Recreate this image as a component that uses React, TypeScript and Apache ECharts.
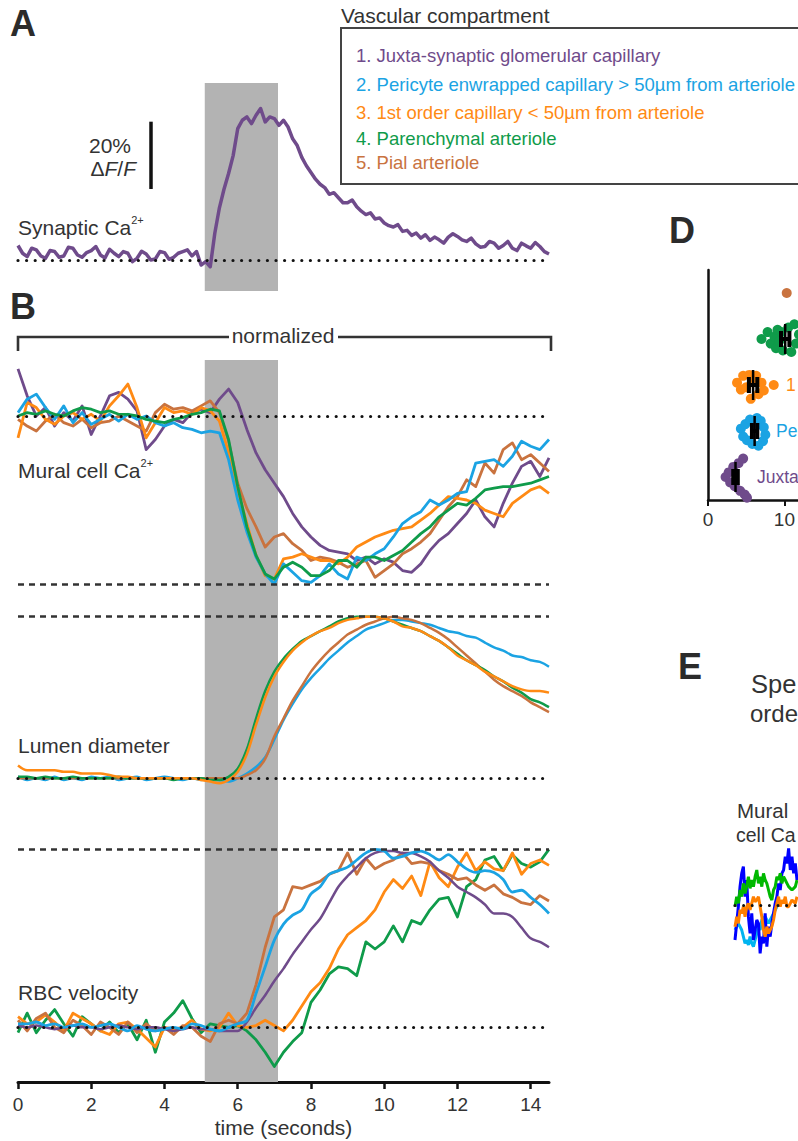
import { useEffect, useRef } from "react";
import * as echarts from "echarts";

const FONT = "'Liberation Sans', Arial, Helvetica, sans-serif";
const DT = 0.25; // sampling interval of the panel B traces (s)
const DT_A = 0.125; // sampling interval of the panel A trace (s)
const X_MAX = 14.5;
const STIM = [5.1, 7.1];

const C_JUXTA = "#6f4b8b";
const C_PERI = "#1ba3e3";
const C_FIRST = "#ff8a14";
const C_PAREN = "#0f9b4a";
const C_PIAL = "#c9733f";

const LEGEND_ITEMS = [
  "1. Juxta-synaptic glomerular capillary",
  "2. Pericyte enwrapped capillary > 50µm from arteriole",
  "3. 1st order capillary < 50µm from arteriole",
  "4. Parenchymal arteriole",
  "5. Pial arteriole",
];
const LEGEND_COLORS = [C_JUXTA, C_PERI, C_FIRST, C_PAREN, C_PIAL];

// Panel A: synaptic Ca2+ (% dF/F), one row per second
const synapticCa = [
  4.3, 2.0, 1.0, 3.5, 3.0, 1.2, 0.5, 2.8,
  2.5, 0.8, 1.2, 3.8, 3.5, 1.5, 0.8, 2.2,
  2.8, 4.0, 1.5, 0.6, 3.2, 2.0, 1.0, 2.5,
  2.0, -0.5, 0.5, 2.6, 1.8, 0.0, 0.3, 2.5,
  2.2, 0.2, 0.8, 2.0, 2.5, 3.0, 1.2, 2.5,
  -1.5, -0.5, -2.0, 8.0, 15.5, 21.0, 25.7, 31.0,
  39.0, 41.5, 42.5, 40.5, 43.0, 45.0, 41.0, 42.5,
  42.0, 40.0, 41.5, 39.5, 36.0, 34.0, 30.5, 28.0,
  26.0, 24.0, 22.5, 21.5, 19.5, 20.0, 18.5, 17.0,
  17.0, 17.8, 15.8, 14.5, 13.5, 14.0, 12.2, 12.5,
  11.0, 10.2, 9.8, 10.5, 8.5, 8.8, 7.3, 8.0,
  6.5, 7.5, 5.8, 6.8, 6.0, 5.0, 6.8, 7.8,
  7.0, 6.0, 5.5, 6.5, 4.8, 3.8, 4.0, 5.5,
  5.0, 3.5, 4.3, 5.5, 3.5, 2.8, 5.0, 4.2,
  3.5, 5.2, 4.0, 2.5, 1.8,
];

// Panel B: mural cell Ca2+ (normalized, 0 = baseline, -1 = minimum)
const muralJuxta = [
  0.28, 0.12, 0.0, 0.05, -0.06, 0.02, -0.03, 0.06, -0.11, 0.0,
  0.12, 0.14, 0.1, 0.03, -0.2, -0.14, -0.06, -0.02, -0.04, 0.02,
  0.04, 0.02, 0.1, 0.16, 0.08, -0.08, -0.22, -0.32, -0.4, -0.48,
  -0.58, -0.66, -0.72, -0.77, -0.8, -0.81, -0.82, -0.86, -0.84, -0.88,
  -0.85, -0.87, -0.92, -0.93, -0.88, -0.8, -0.74, -0.7, -0.64, -0.58,
  -0.5, -0.6, -0.66, -0.52, -0.4, -0.3, -0.27, -0.36, -0.25,
];
const muralPericyte = [
  0.02, 0.1, 0.13, 0.05, -0.02, 0.06, -0.04, 0.02, -0.05, -0.02,
  0.01, -0.03, 0.01, -0.02, 0.0, -0.04, -0.06, -0.04, -0.07, -0.08,
  -0.1, -0.09, -0.1, -0.26, -0.5, -0.69, -0.84, -0.94, -1.0, -0.88,
  -0.93, -0.98, -0.99, -0.95, -0.88, -0.94, -0.97, -0.84, -0.86, -0.82,
  -0.79, -0.72, -0.64, -0.6, -0.57, -0.5, -0.53, -0.5, -0.46, -0.45,
  -0.28, -0.27, -0.26, -0.3, -0.24, -0.15, -0.18, -0.2, -0.14,
];
const muralFirst = [
  -0.13, 0.08, 0.05, -0.02, -0.05, 0.0, 0.02, -0.02, 0.01, -0.03,
  0.06, 0.12, 0.19, 0.05, -0.13, -0.04, 0.05, 0.02, 0.03, 0.01,
  0.05, 0.03, -0.03, -0.22, -0.44, -0.64, -0.83, -0.95, -0.97, -0.85,
  -0.84, -0.82, -0.84, -0.86, -0.86, -0.88, -0.84, -0.78, -0.75, -0.72,
  -0.7, -0.68, -0.67, -0.66, -0.62, -0.58, -0.53, -0.48, -0.49, -0.5,
  -0.52, -0.56, -0.58, -0.6, -0.52, -0.48, -0.44, -0.42, -0.46,
];
const muralParench = [
  0.0, 0.02, 0.01, 0.03, 0.01, 0.0, 0.03, 0.05, 0.04, 0.02,
  0.03, 0.01, 0.01, 0.0, -0.02, -0.03, -0.04, -0.02, -0.01, 0.01,
  0.02, 0.04, 0.03, -0.14, -0.42, -0.66, -0.83, -0.94, -0.97, -0.9,
  -0.87, -0.9, -0.95, -0.95, -0.92, -0.86, -0.86, -0.9, -0.84, -0.84,
  -0.86, -0.83, -0.8, -0.75, -0.7, -0.66, -0.6, -0.56, -0.52, -0.53,
  -0.49, -0.44, -0.43, -0.42, -0.42, -0.41, -0.4, -0.38, -0.36,
];
const muralPial = [
  -0.02, -0.06, -0.09, -0.03, 0.01, -0.04, -0.06, -0.02, -0.07, -0.04,
  -0.03, 0.0, -0.03, -0.06, -0.09, 0.02, 0.07, 0.04, 0.05, 0.03,
  0.06, 0.09, 0.02, -0.15, -0.4, -0.55, -0.66, -0.78, -0.72, -0.7,
  -0.76, -0.8, -0.86, -0.84, -0.85, -0.87, -0.9, -0.88, -0.86, -0.96,
  -0.92, -0.88, -0.82, -0.79, -0.75, -0.7, -0.62, -0.54, -0.48, -0.38,
  -0.42, -0.28, -0.34, -0.2, -0.16, -0.26, -0.23, -0.28, -0.33,
];

// Lumen diameter (normalized, 0 = baseline, 1 = peak)
const lumenPericyte = [
  0.01, -0.01, 0.0, -0.01, 0.01, -0.01, 0.0, -0.01, 0.01, 0.0,
  0.01, -0.01, 0.0, 0.01, -0.01, 0.0, 0.01, 0.0, -0.01, 0.0,
  -0.01, 0.0, -0.01, -0.02, 0.0, 0.03, 0.07, 0.13, 0.24, 0.36,
  0.46, 0.55, 0.62, 0.68, 0.74, 0.79, 0.84, 0.88, 0.92, 0.94,
  0.96, 0.98, 0.98, 0.97, 0.96, 0.95, 0.93, 0.91, 0.9, 0.88,
  0.87, 0.84, 0.81, 0.79, 0.76, 0.75, 0.73, 0.72, 0.69,
];
const lumenPial = [
  0.0, 0.0, 0.0, 0.0, 0.0, 0.0, 0.0, 0.0, 0.0, 0.0,
  0.0, 0.0, 0.0, 0.0, 0.0, 0.0, 0.0, 0.0, 0.0, 0.0,
  0.0, 0.0, 0.0, 0.0, 0.0, 0.02, 0.05, 0.12, 0.26, 0.37,
  0.48, 0.57, 0.66, 0.73, 0.79, 0.84, 0.89, 0.92, 0.95, 0.97,
  0.99, 1.0, 0.99, 0.98, 0.96, 0.93, 0.9, 0.86, 0.81, 0.76,
  0.71, 0.66, 0.61, 0.57, 0.54, 0.51, 0.47, 0.44, 0.41,
];
const lumenParench = [
  0.01, 0.01, 0.0, 0.01, 0.0, 0.0, 0.01, 0.0, 0.0, 0.0,
  0.0, 0.01, 0.0, 0.0, 0.0, 0.0, 0.0, -0.01, 0.0, 0.0,
  0.0, -0.01, -0.01, 0.01, 0.06, 0.18, 0.37, 0.54, 0.66, 0.74,
  0.8, 0.85, 0.88, 0.91, 0.94, 0.97, 0.99, 1.0, 1.0, 1.0,
  0.99, 0.97, 0.95, 0.93, 0.91, 0.88, 0.85, 0.81, 0.77, 0.73,
  0.7, 0.67, 0.63, 0.6, 0.56, 0.53, 0.49, 0.47, 0.44,
];
const lumenFirst = [
  0.08, 0.05, 0.05, 0.05, 0.05, 0.04, 0.04, 0.03, 0.03, 0.03,
  0.02, 0.01, 0.01, 0.0, 0.0, 0.0, 0.0, 0.0, 0.0, 0.0,
  -0.01, -0.02, -0.03, -0.01, 0.04, 0.15, 0.33, 0.5, 0.63, 0.72,
  0.79, 0.84, 0.88, 0.91, 0.93, 0.96, 0.98, 0.99, 1.0, 1.0,
  0.99, 0.97, 0.94, 0.93, 0.91, 0.88, 0.85, 0.81, 0.76, 0.73,
  0.7, 0.66, 0.63, 0.6, 0.57, 0.55, 0.54, 0.54, 0.53,
];

// RBC velocity (normalized, 0 = baseline, 1 = peak)
const rbcParench = [
  -0.03, 0.08, -0.03, 0.04, 0.1, 0.02, -0.05, 0.06, 0.02, -0.02,
  0.03, -0.03, 0.02, -0.07, 0.04, -0.14, 0.03, 0.08, 0.15, 0.05,
  -0.03, 0.02, 0.01, 0.0, 0.01, -0.02, -0.07, -0.14, -0.22, -0.14,
  -0.08, -0.03, 0.14, 0.21, 0.3, 0.34, 0.33, 0.29, 0.48, 0.44,
  0.48, 0.57, 0.48, 0.6, 0.58, 0.66, 0.72, 0.73, 0.62, 0.79,
  0.83, 0.94, 0.96, 0.88, 0.97, 0.92, 0.9, 0.93, 1.0,
];
const rbcFirst = [
  0.06, 0.02, 0.03, 0.07, 0.03, -0.02, 0.08, 0.05, 0.02, -0.02,
  -0.04, 0.02, 0.03, -0.01, -0.06, -0.11, 0.0, -0.01, 0.0, 0.04,
  -0.01, -0.02, 0.0, 0.08, 0.01, 0.0, 0.01, 0.04, 0.01, -0.02,
  0.04, 0.12, 0.2, 0.25, 0.33, 0.44, 0.52, 0.56, 0.6, 0.66,
  0.76, 0.83, 0.78, 0.85, 0.74, 0.93, 0.84, 0.79, 0.9, 0.98,
  0.88, 0.93, 0.89, 0.88, 0.98, 0.86, 0.92, 0.94, 0.91,
];
const rbcPial = [
  0.04, -0.02, 0.05, 0.08, 0.0, -0.03, 0.04, 0.01, -0.04, 0.03,
  0.0, -0.04, 0.03, -0.03, 0.02, -0.02, 0.0, -0.04, 0.01, 0.0,
  -0.05, -0.08, 0.02, 0.04, 0.02, 0.08, 0.24, 0.45, 0.62, 0.66,
  0.79, 0.78, 0.8, 0.82, 0.86, 0.88, 0.98, 0.86, 0.95, 0.89,
  0.92, 0.94, 0.98, 0.92, 0.93, 0.92, 0.88, 0.86, 0.83, 0.84,
  0.8, 0.77, 0.8, 0.75, 0.73, 0.7, 0.69, 0.74, 0.71,
];
const rbcJuxta = [
  0.01, 0.0, 0.01, 0.0, -0.01, 0.0, 0.01, 0.0, 0.0, -0.01,
  0.0, 0.01, 0.0, -0.01, 0.0, 0.0, -0.01, -0.02, -0.01, 0.0,
  -0.01, -0.01, -0.02, -0.02, -0.02, 0.03, 0.11, 0.18, 0.26, 0.33,
  0.41, 0.48, 0.55, 0.61, 0.7, 0.79, 0.85, 0.9, 0.95, 0.98,
  0.99, 0.99, 0.98, 0.98, 0.96, 0.93, 0.88, 0.84, 0.79, 0.76,
  0.73, 0.69, 0.64, 0.64, 0.62, 0.56, 0.5, 0.48, 0.45,
];
const rbcPericyte = [
  0.02, 0.02, 0.03, 0.01, 0.02, 0.0, 0.01, 0.02, 0.0, 0.01,
  0.02, 0.0, -0.02, 0.01, -0.01, -0.02, -0.01, 0.0, -0.01, 0.02,
  0.01, -0.01, -0.02, 0.0, 0.02, 0.04, 0.19, 0.34, 0.49, 0.58,
  0.63, 0.66, 0.75, 0.79, 0.86, 0.88, 0.9, 0.94, 0.98, 1.0,
  0.99, 0.95, 0.96, 0.98, 0.99, 0.97, 0.94, 0.97, 0.93, 0.89,
  0.87, 0.88, 0.87, 0.83, 0.76, 0.77, 0.73, 0.69, 0.64,
];

// Panel D: onset latency per compartment (categories 1..5 bottom->top)
const dJuxtaX = [2.3, 2.7, 2.9, 3.3, 3.5, 4.0, 4.2, 4.6, 4.8, 5.1];
const dJuxtaJit = [0, 0.1, -0.12, 0.22, -0.2, 0.3, -0.3, 0.4, -0.38, -0.45];
const dPeriX = [4.3, 4.6, 4.9, 5.1, 5.5, 5.8, 6.4, 6.9, 7.3, 7.5, 7.2, 6.6];
const dPeriJit = [0.05, -0.12, 0.15, -0.2, 0.25, -0.28, 0.28, 0.22, 0.08, -0.08, -0.22, -0.32];
const dFirstX = [3.8, 4.3, 4.6, 5.0, 5.4, 5.6, 5.9, 6.3, 6.6, 7.0, 7.3, 8.6];
const dFirstJit = [0.05, -0.1, 0.2, -0.05, 0.22, -0.3, 0.1, 0.2, -0.2, 0.05, -0.12, 0];
const dParenX = [7.0, 7.8, 8.2, 8.7, 8.9, 9.1, 9.3, 9.6, 9.8, 10.5, 10.9, 11.3, 11.5, 11.9, 12.5, 13.0];
const dParenJit = [0, 0.15, -0.1, 0.05, -0.2, 0.2, -0.05, 0.15, -0.25, 0.25, -0.28, 0.32, -0.1, 0.1, -0.2, 0.05];
const dPialX = [10.3];
const dPialJit = [0];
const dMeans = [3.6, 6.1, 5.9, 10.1];
const dSems = [0.3, 0.35, 0.55, 0.55];

// Panel E: example mural cell Ca2+ traces (arbitrary units)
const eCyan = [
  -0.75, -0.65, -0.55, -0.65, -0.75, -0.95, -1.15, -1.05, -1.2, -0.95,
  -1.15, -1.25, -1.05, -0.85, -0.65, -0.75, -0.45, -0.4, -0.35, -0.45,
  -0.55, -0.45, -0.35, -0.25, -0.15, -0.05, 0.05,
];
const eBlue = [
  -1.05, -0.55, -0.05, 0.55, 0.95, 1.15, 0.25, 0.75, -0.35, -0.85,
  -0.25, -1.05, -0.75, -0.45, -0.55, -1.45, -0.95, -1.15, -0.25, -1.25,
  -0.65, -0.95, -0.55, -0.25, 0.05, 0.25, 0.65, 0.45, 0.95, 1.05,
  1.45, 1.25, 1.7, 1.05, 1.45, 0.95, 1.25, 0.75,
];
const eGreen = [
  -0.05, 0.25, 0.05, 0.45, 0.25, 0.65, 0.35, 0.55, 0.85, 0.5,
  0.75, 0.55, 0.85, 1.05, 0.65, 0.85, 0.55, 0.95, 0.75, 0.65,
  0.45, 0.25, 0.15, 0.45, 0.55, 0.85, 0.75, 0.95, 0.65, 0.85,
  0.75, 0.65, 0.55, 0.5, 0.45, 0.5, 0.55, 0.75,
];
const eOrange = [
  -0.65, -0.35, -0.55, -0.15, -0.25, -0.05, -0.35, -0.05, 0.05, -0.15,
  0.05, 0.25, 0.1, 0.15, 0.25, -0.05, -0.35, -0.75, -0.95, -0.65,
  -0.85, -0.75, -0.65, -0.45, -0.15, 0.05, 0.25, -0.05, 0.15, 0.05,
  0.25, -0.05, -0.05, 0.05, 0.15, 0.1, 0.05, 0.25,
];

const timed = (vals: number[], dt = DT) => vals.map((v, i) => [i * dt, v]);
const indexed = (vals: number[]) => vals.map((v, i) => [i, v]);

const DOT = { type: [0, 8.6], width: 3.2, cap: "round", color: "#111" };
const DASH = { type: [6, 5], width: 2.6, color: "#333" };

function trace(name: string, vals: number[], color: string, gi: number, width: number, smooth = false, dt = DT) {
  return {
    name, type: "line", xAxisIndex: gi, yAxisIndex: gi, data: timed(vals, dt),
    symbol: "none", showSymbol: false, smooth: smooth ? 0.3 : false, silent: true, z: 3,
    lineStyle: { color, width, join: "round" }, itemStyle: { color },
  };
}
function stimBox(gi: number) {
  return {
    type: "line", xAxisIndex: gi, yAxisIndex: gi, data: [], silent: true, z: 1,
    markArea: { silent: true, itemStyle: { color: "#b3b3b3" }, data: [[{ xAxis: STIM[0] }, { xAxis: STIM[1] }]] },
  };
}
function refLines(xi: number, yi: number, lines: any[], z = 2) {
  return {
    type: "line", xAxisIndex: xi, yAxisIndex: yi, data: [], silent: true, z,
    markLine: { silent: true, symbol: "none", label: { show: false }, data: lines },
  };
}
function txt(text: string, x: number, y: number, size: number, color = "#333", extra: any = {}) {
  return {
    type: "text", x, y, silent: true, z: 50,
    style: { text, fill: color, fontSize: size, fontFamily: FONT, textAlign: "left", textVerticalAlign: "middle", ...extra },
  };
}
function supTxt(base: string, sup: string, x: number, y: number) {
  return {
    type: "text", x, y, silent: true, z: 50,
    style: {
      text: `{a|${base}}{s|${sup}}`, textAlign: "left", textVerticalAlign: "middle",
      rich: {
        a: { fontSize: 21, fontFamily: FONT, fill: "#333", lineHeight: 24, verticalAlign: "bottom" },
        s: { fontSize: 11, fontFamily: FONT, fill: "#333", lineHeight: 12, verticalAlign: "top" },
      },
    },
  };
}

export default function App() {
  const ref = useRef<HTMLDivElement>(null);
  useEffect(() => {
    if (!ref.current) return;
    const chart = echarts.init(ref.current, undefined, { renderer: "svg" });
    const hiddenX = (gi: number) => ({ type: "value", gridIndex: gi, min: 0, max: X_MAX, show: false });
    const scatter = (xs: number[], jit: number[], cat: number, color: string) => ({
      type: "scatter", xAxisIndex: 4, yAxisIndex: 5, symbolSize: 10, silent: true, z: 3, clip: false,
      itemStyle: { color, opacity: 1 }, data: xs.map((x, i) => [x, cat + jit[i]]),
    });
    const eLine = (vals: number[], color: string) => ({
      type: "line", xAxisIndex: 5, yAxisIndex: 6, data: indexed(vals), symbol: "none", silent: true, z: 3,
      lineStyle: { color, width: 3 },
    });

    const option: any = {
      animation: false,
      textStyle: { fontFamily: FONT },
      grid: [
        { left: 18, top: 83, width: 531, height: 208 },
        { left: 18, top: 360, width: 531, height: 240 },
        { left: 18, top: 600, width: 531, height: 200 },
        { left: 18, top: 800, width: 531, height: 282 },
        { left: 708, top: 270, width: 90, height: 230 },
        { left: 735, top: 840, width: 62, height: 120 },
      ],
      xAxis: [
        hiddenX(0), hiddenX(1), hiddenX(2),
        {
          type: "value", gridIndex: 3, min: 0, max: X_MAX, interval: 2,
          axisLine: { onZero: false, lineStyle: { color: "#111", width: 3 } },
          axisTick: { length: 7, lineStyle: { color: "#111", width: 2.5 } },
          axisLabel: { fontSize: 19, color: "#333", margin: 13, fontFamily: FONT },
          splitLine: { show: false },
          name: "time (seconds)", nameLocation: "middle", nameGap: 35,
          nameTextStyle: { fontSize: 21, color: "#333", fontFamily: FONT },
        },
        {
          type: "value", gridIndex: 4, min: 0, max: 11.69, interval: 10,
          axisLine: { onZero: false, lineStyle: { color: "#111", width: 2.5 } },
          axisTick: { length: 6, lineStyle: { color: "#111", width: 2 } },
          axisLabel: { fontSize: 19, color: "#333", margin: 10, fontFamily: FONT, showMaxLabel: false },
          splitLine: { show: false },
        },
        { type: "value", gridIndex: 5, min: 0, max: 37, show: false },
      ],
      yAxis: [
        { type: "value", gridIndex: 0, min: -9.21, max: 52.57, show: false },
        { type: "value", gridIndex: 1, min: -1.095, max: 0.333, show: false },
        { type: "value", gridIndex: 2, min: -0.134, max: 1.103, show: false },
        { type: "value", gridIndex: 3, min: -0.307, max: 1.277, show: false },
        {
          type: "category", gridIndex: 4, data: ["1", "2", "3", "4", "5"],
          axisLine: { onZero: false, lineStyle: { color: "#111", width: 2.5 } },
          axisTick: { alignWithLabel: true, length: 6, lineStyle: { color: "#111", width: 2 } },
          axisLabel: { show: false }, splitLine: { show: false },
        },
        { type: "value", gridIndex: 4, min: 0.5, max: 5.5, show: false },
        { type: "value", gridIndex: 5, min: -1.65, max: 1.95, show: false },
      ],
      series: [
        // Panel A
        stimBox(0),
        trace("Synaptic Ca", synapticCa, C_JUXTA, 0, 3.5, false, DT_A),
        refLines(0, 0, [
          { yAxis: 0, lineStyle: DOT },
          [{ coord: [3.63, 21.09], lineStyle: { color: "#111", width: 3.5, type: "solid" } }, { coord: [3.63, 41.08] }],
        ], 4),
        // Mural cell Ca
        stimBox(1),
        refLines(1, 1, [{ yAxis: 0, lineStyle: DOT }, { yAxis: -1, lineStyle: DASH }]),
        trace("m1", muralJuxta, C_JUXTA, 1, 2.8),
        trace("m5", muralPial, C_PIAL, 1, 2.8),
        trace("m3", muralFirst, C_FIRST, 1, 2.8),
        trace("m2", muralPericyte, C_PERI, 1, 2.8),
        trace("m4", muralParench, C_PAREN, 1, 2.8),
        // Lumen
        stimBox(2),
        refLines(2, 2, [{ yAxis: 1, lineStyle: DASH }, { yAxis: 0, lineStyle: DOT }]),
        trace("l2", lumenPericyte, C_PERI, 2, 2.5, true),
        trace("l5", lumenPial, C_PIAL, 2, 2.5, true),
        trace("l4", lumenParench, C_PAREN, 2, 2.5, true),
        trace("l3", lumenFirst, C_FIRST, 2, 2.5, true),
        // RBC
        stimBox(3),
        refLines(3, 3, [{ yAxis: 1, lineStyle: DASH }, { yAxis: 0, lineStyle: DOT }]),
        trace("r4", rbcParench, C_PAREN, 3, 2.8),
        trace("r3", rbcFirst, C_FIRST, 3, 2.8),
        trace("r5", rbcPial, C_PIAL, 3, 2.8),
        trace("r1", rbcJuxta, C_JUXTA, 3, 2.5, true),
        trace("r2", rbcPericyte, C_PERI, 3, 2.8, true),
        // Panel D
        scatter(dPialX, dPialJit, 5, C_PIAL),
        scatter(dParenX, dParenJit, 4, C_PAREN),
        scatter(dFirstX, dFirstJit, 3, C_FIRST),
        scatter(dPeriX, dPeriJit, 2, C_PERI),
        scatter(dJuxtaX, dJuxtaJit, 1, C_JUXTA),
        {
          type: "custom", xAxisIndex: 4, yAxisIndex: 5, silent: true, z: 5,
          encode: { x: 0, y: 2 },
          data: dMeans.map((m, i) => [m, dSems[i], i + 1]),
          renderItem: (_p: any, api: any) => {
            const m = api.value(0), s = api.value(1), c = api.value(2);
            const p = api.coord([m, c]);
            const l = api.coord([m - s, c]);
            const r = api.coord([m + s, c]);
            const k = { stroke: "#000", lineWidth: 4 };
            return {
              type: "group",
              children: [
                { type: "line", shape: { x1: p[0], y1: p[1] - 15, x2: p[0], y2: p[1] + 15 }, style: { stroke: "#000", lineWidth: 2.5 } },
                { type: "line", shape: { x1: l[0], y1: p[1] - 8, x2: l[0], y2: p[1] + 8 }, style: k },
                { type: "line", shape: { x1: r[0], y1: p[1] - 8, x2: r[0], y2: p[1] + 8 }, style: k },
                { type: "line", shape: { x1: l[0], y1: p[1], x2: r[0], y2: p[1] }, style: k },
              ],
            };
          },
        },
        // Panel E
        refLines(5, 6, [{ yAxis: 0, lineStyle: { ...DOT, width: 3 } }], 2),
        eLine(eCyan, "#00b4f0"),
        eLine(eBlue, "#0000ff"),
        eLine(eGreen, "#00b800"),
        eLine(eOrange, "#ff7f00"),
      ],
      graphic: [
        txt("A", 10, 23, 36, "#2b2b2b", { fontWeight: "bold" }),
        txt("B", 10, 306, 36, "#2b2b2b", { fontWeight: "bold" }),
        txt("D", 669, 230, 36, "#2b2b2b", { fontWeight: "bold" }),
        txt("E", 678, 666, 36, "#2b2b2b", { fontWeight: "bold" }),
        txt("Vascular compartment", 341, 15, 21),
        { type: "rect", z: 40, silent: true, shape: { x: 341, y: 28, width: 480, height: 156 }, style: { fill: "none", stroke: "#444", lineWidth: 2 } },
        ...LEGEND_ITEMS.map((t, i) => txt(t, 356, [55, 84, 112, 138, 162][i], 18.5, LEGEND_COLORS[i])),
        txt("20%", 131, 145, 21, "#333", { textAlign: "right" }),
        {
          type: "text", x: 136, y: 168, silent: true, z: 50,
          style: {
            text: "{n|Δ}{i|F}{n|/}{i|F}", textAlign: "right", textVerticalAlign: "middle",
            rich: {
              n: { fontSize: 21, fontFamily: FONT, fill: "#333" },
              i: { fontSize: 21, fontFamily: FONT, fill: "#333", fontStyle: "italic" },
            },
          },
        },
        supTxt("Synaptic Ca", "2+", 18, 226),
        { type: "polyline", z: 40, silent: true, shape: { points: [[18, 351], [18, 337], [229, 337]] }, style: { fill: "none", stroke: "#333", lineWidth: 2.6 } },
        { type: "polyline", z: 40, silent: true, shape: { points: [[338, 337], [551, 337], [551, 351]] }, style: { fill: "none", stroke: "#333", lineWidth: 2.6 } },
        txt("normalized", 283, 335, 21, "#333", { textAlign: "center" }),
        supTxt("Mural cell Ca", "2+", 18, 469),
        txt("Lumen diameter", 18, 745, 21),
        txt("RBC velocity", 18, 992, 21),
        txt("Juxta", 757, 477, 17.5, C_JUXTA),
        txt("Pe", 776, 431, 17.5, C_PERI),
        txt("1", 786, 385, 17.5, C_FIRST),
        txt("Spe", 751, 684, 25.5),
        txt("orde", 750, 713, 24),
        txt("Mural", 737, 810, 20.5),
        txt("cell Ca", 736, 835, 19.5),
      ],
    };
    chart.setOption(option);
    return () => chart.dispose();
  }, []);
  return <div ref={ref} style={{ position: "absolute", left: 0, top: 0, width: 798, height: 1141 }} />;
}
